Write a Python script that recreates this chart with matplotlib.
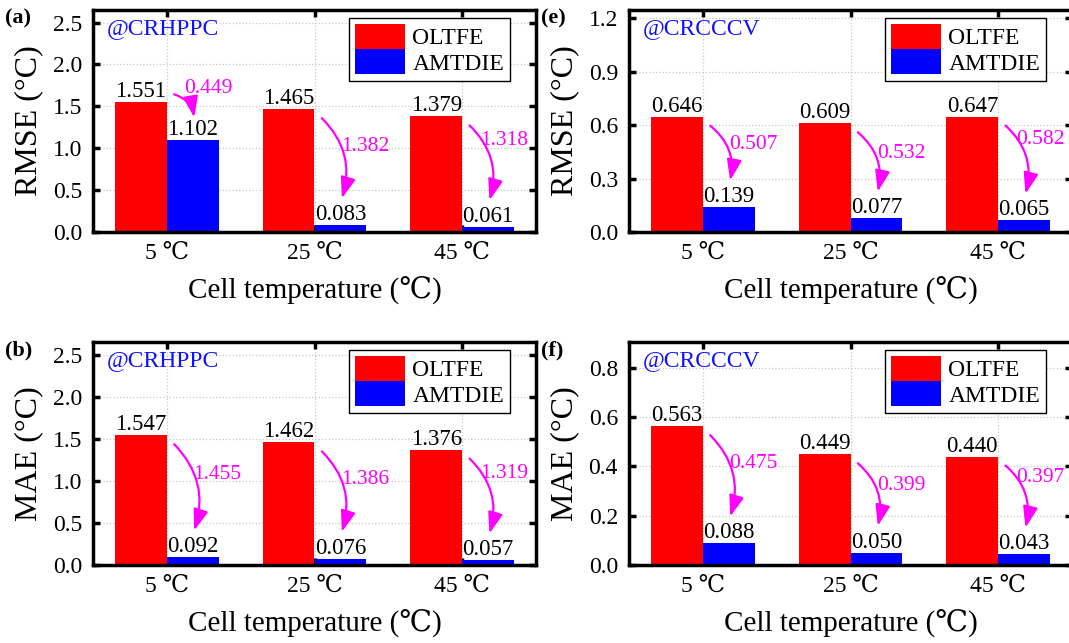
import matplotlib
matplotlib.use("Agg")
import matplotlib.pyplot as plt
import numpy as np

plt.rcParams['font.family'] = ['Liberation Serif', 'DejaVu Serif', 'DejaVu Sans']

temps = ['5 ℃', '25 ℃', '45 ℃']
series = ['OLTFE', 'AMTDIE']

# panel (a) RMSE, CRHPPC
rmse_hppc_oltfe = [1.551, 1.465, 1.379]
rmse_hppc_amtdie = [1.102, 0.083, 0.061]
rmse_hppc_drop = [0.449, 1.382, 1.318]
# panel (b) MAE, CRHPPC
mae_hppc_oltfe = [1.547, 1.462, 1.376]
mae_hppc_amtdie = [0.092, 0.076, 0.057]
mae_hppc_drop = [1.455, 1.386, 1.319]
# panel (e) RMSE, CRCCCV
rmse_cccv_oltfe = [0.646, 0.609, 0.647]
rmse_cccv_amtdie = [0.139, 0.077, 0.065]
rmse_cccv_drop = [0.507, 0.532, 0.582]
# panel (f) MAE, CRCCCV
mae_cccv_oltfe = [0.563, 0.449, 0.440]
mae_cccv_amtdie = [0.088, 0.050, 0.043]
mae_cccv_drop = [0.475, 0.399, 0.397]

yticks_hppc = [0.0, 0.5, 1.0, 1.5, 2.0, 2.5]
yticks_rmse_cccv = [0.0, 0.3, 0.6, 0.9, 1.2]
yticks_mae_cccv = [0.0, 0.2, 0.4, 0.6, 0.8]

W, H = 1069, 643
fig = plt.figure(figsize=(W / 100, H / 100), dpi=100)

panels = [
    # letter, rect(px: left, top, width, height), tag, ylabel, red, blue, drop, yticks, ymax
    ('(a)', (93, 10, 443, 222), '@CRHPPC', 'RMSE (°C)', rmse_hppc_oltfe, rmse_hppc_amtdie, rmse_hppc_drop, yticks_hppc, 2.65),
    ('(b)', (93, 342, 443, 223), '@CRHPPC', 'MAE (°C)', mae_hppc_oltfe, mae_hppc_amtdie, mae_hppc_drop, yticks_hppc, 2.66),
    ('(e)', (629, 10, 443, 222), '@CRCCCV', 'RMSE (°C)', rmse_cccv_oltfe, rmse_cccv_amtdie, rmse_cccv_drop, yticks_rmse_cccv, 1.245),
    ('(f)', (629, 342, 443, 223), '@CRCCCV', 'MAE (°C)', mae_cccv_oltfe, mae_cccv_amtdie, mae_cccv_drop, yticks_mae_cccv, 0.905),
]

x = np.arange(len(temps))
bw = 0.35

for letter, (l, t, w, h), tag, ylab, red, blue, drop, yt, ymax in panels:
    ax = fig.add_axes([l / W, 1 - (t + h) / H, w / W, h / H])
    ax.set_axisbelow(True)
    ax.grid(True, color='#c8c8c8', linestyle=':', linewidth=0.9)
    ax.bar(x - bw / 2, red, bw, color='#ff0000', label=series[0])
    ax.bar(x + bw / 2, blue, bw, color='#0000ff', label=series[1])

    for i in range(len(x)):
        ax.annotate(f'{red[i]:.3f}', (x[i] - bw / 2, red[i]), xytext=(0, 0),
                    textcoords='offset points', ha='center', va='bottom', fontsize=16.5)
        ax.annotate(f'{blue[i]:.3f}', (x[i] + bw / 2, blue[i]), xytext=(0, 0),
                    textcoords='offset points', ha='center', va='bottom', fontsize=16.5)
        if red[i] - blue[i] < 0.25 * ymax:
            y0 = red[i] + 0.035 * ymax
            y1 = blue[i] + 0.10 * ymax
            tx, ty = x[i] + 0.12, red[i] + 0.06 * ymax
        else:
            y0 = red[i] - 0.04 * ymax
            y1 = blue[i] + 0.12 * ymax
            # last group sits near the right frame, so its label is pulled in
            if i == len(x) - 1:
                tx, ty = x[i] + 0.12, y0 - 0.2 * (y0 - y1)
            else:
                tx, ty = x[i] + 0.18, y0 - 0.35 * (y0 - y1)
        ax.annotate('', xy=(x[i] + 0.185, y1), xytext=(x[i] + 0.05, y0),
                    arrowprops=dict(arrowstyle='-|>,head_length=0.8,head_width=0.28',
                                    mutation_scale=16, color='#ff00ff', lw=1.6,
                                    shrinkA=0, shrinkB=0,
                                    connectionstyle='arc3,rad=-0.3'))
        ax.text(tx, ty, f'{drop[i]:.3f}', color='#ff00ff', fontsize=15.5,
                ha='left', va='center')

    ax.set_xlim(-0.5, 2.5)
    ax.set_ylim(0, ymax)
    ax.set_xticks(x)
    ax.set_xticklabels(temps)
    ax.set_yticks(yt)
    ax.set_yticklabels([f'{v:.1f}' for v in yt])
    ax.tick_params(direction='in', length=5, width=2.5, top=True, right=True,
                   labelsize=17, pad=8)
    for s in ax.spines.values():
        s.set_linewidth(2.5)
    ax.set_ylabel(ylab, fontsize=23, labelpad=7)
    ax.set_xlabel('Cell temperature (℃)', fontsize=21, labelpad=9)
    ax.text(0.032, 0.915, tag, color='#1010ff', fontsize=17, transform=ax.transAxes,
            ha='left', va='center')
    leg = ax.legend(loc='upper right', bbox_to_anchor=(1 - 26 / 443, 1 - 8 / h),
                    borderaxespad=0, fontsize=17, fancybox=False, edgecolor='black',
                    framealpha=1, handlelength=2.15, handleheight=1.25, labelspacing=0,
                    handletextpad=0.3, borderpad=0.25)
    leg.get_frame().set_linewidth(1.0)
    fig.text((l - 88) / W, 1 - (t + 8) / H, letter, fontsize=16, fontweight='bold',
             ha='left', va='center')

fig.savefig('out.png', dpi=100)
